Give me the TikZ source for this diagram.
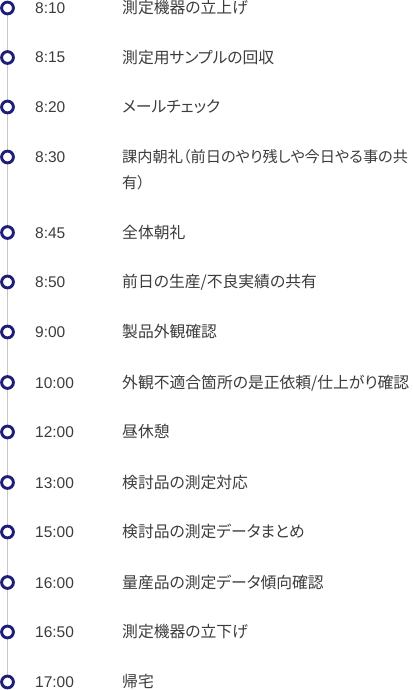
\documentclass[tikz,border=0pt]{standalone}
\usepackage{fontspec}
\setmainfont{Liberation Sans}
\newfontfamily\jp[RawFeature=+palt]{Noto Sans CJK JP}
\usetikzlibrary{backgrounds}
\definecolor{navy}{HTML}{1E1E78}
\definecolor{rail}{HTML}{C8C8C8}
\definecolor{txt}{HTML}{3C3C3C}
\tikzset{
  dot/.style={circle, draw=navy, fill=white, line width=2.9pt, minimum size=11.8pt, inner sep=0pt},
  timetxt/.style={anchor=base west, inner sep=0pt, text=txt, font=\fontsize{15.5}{18}\selectfont},
  desctxt/.style={anchor=base west, inner sep=0pt, text=txt, font=\jp\fontsize{15.8}{18}\selectfont},
  desctight/.style={desctxt, font=\jp\fontsize{15.2}{18}\selectfont},
  railline/.style={draw=rail, line width=1pt}
}
\begin{document}
\begin{tikzpicture}[x=1pt,y=-1pt]
\useasboundingbox (0,0) rectangle (412,690);
\foreach \i/\y/\t/\d in {
  1/8/8:10/{測定機器の立上げ},
  2/57.5/8:15/{測定用サンプルの回収},
  3/107/8:20/{メールチェック},
  5/232.5/8:45/{全体朝礼},
  6/282/8:50/{前日の生産/不良実績の共有},
  7/332/9:00/{製品外観確認},
  8/382.5/10:00/{外観不適合箇所の是正依頼/仕上がり確認},
  9/432/12:00/{昼休憩},
  10/482.5/13:00/{検討品の測定対応},
  11/532/15:00/{検討品の測定データまとめ},
  12/582.5/16:00/{量産品の測定データ傾向確認},
  13/632/16:50/{測定機器の立下げ},
  14/682/17:00/{帰宅}}{
  \node[dot] (c\i) at (7.5,\y) {};
  \node[timetxt] (t\i) at (35,\y+5.5) {\t};
  \node[desctxt] (d\i) at (122,\y+5.8) {\d};
}
\node[dot] (c4) at (7.5,157) {};
\node[timetxt] (t4) at (35,157+5.5) {8:30};
\node[desctight] (d4) at (122,157+5.8) {課内朝礼（前日のやり残しや今日やる事の共};
\node[desctight] (d4b) at (122,157+5.8+26) {有）};
\begin{scope}[on background layer]
  \draw[railline] (c1.center) -- (c14.center);
\end{scope}
\end{tikzpicture}
\end{document}
